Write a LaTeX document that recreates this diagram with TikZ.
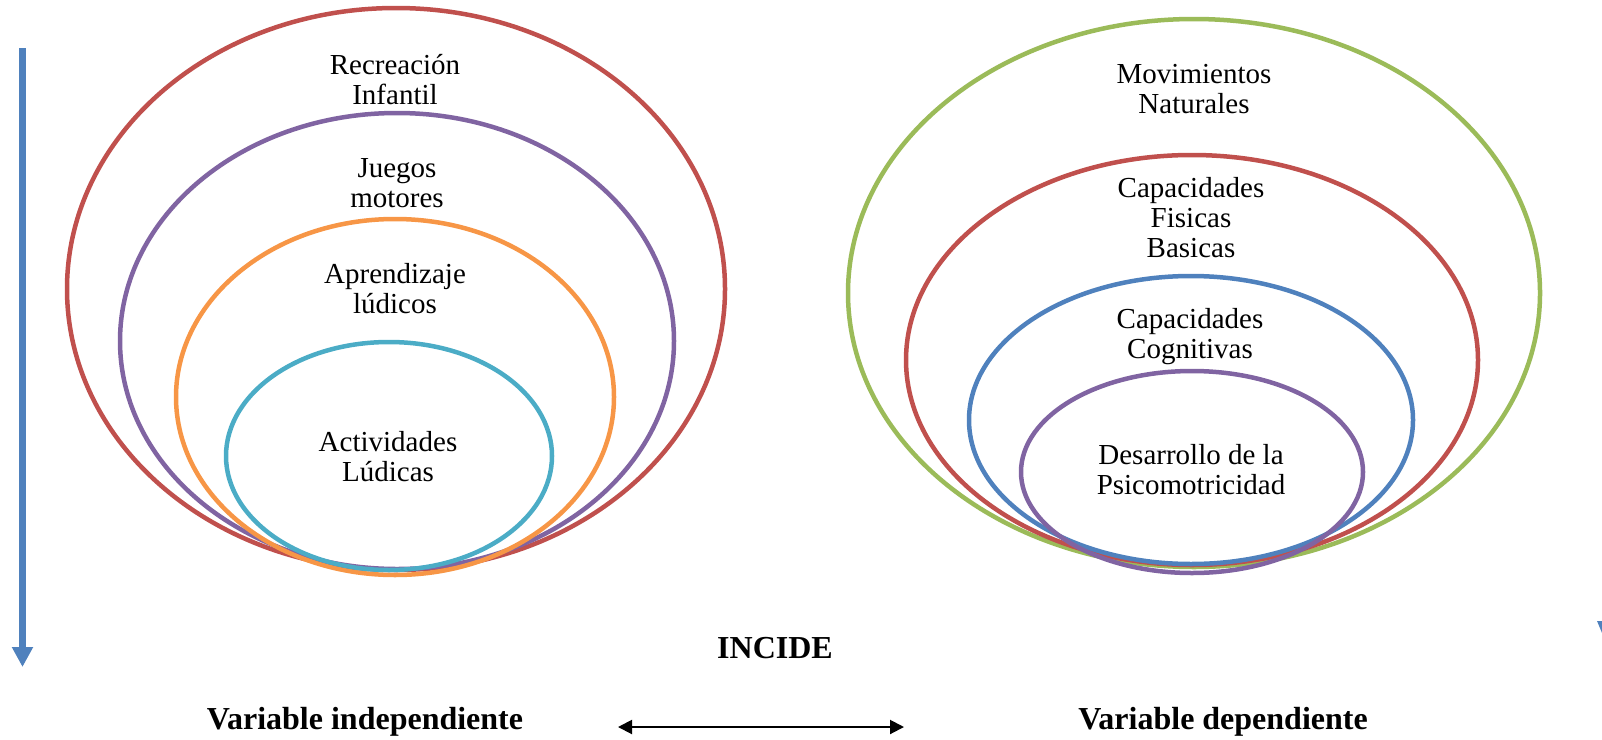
\documentclass[tikz,border=0pt]{standalone}
\usepackage{fontspec}
\setmainfont{Liberation Serif}
\usetikzlibrary{shapes.geometric,arrows.meta}
\definecolor{cred}{HTML}{C0504D}
\definecolor{cpurple}{HTML}{8064A2}
\definecolor{corange}{HTML}{F79646}
\definecolor{ccyan}{HTML}{4BACC6}
\definecolor{cgreen}{HTML}{9BBB59}
\definecolor{cblue}{HTML}{4F81BD}
\tikzset{
  ring/.style={ellipse, draw, line width=4.5pt, inner sep=0pt},
  lbl/.style={align=center, font=\fontsize{29}{30}\selectfont, inner sep=0pt},
  btxt/.style={font=\fontsize{32}{34}\selectfont\bfseries, inner sep=0pt, anchor=base},
}
\begin{document}
\begin{tikzpicture}[x=1pt,y=-1pt]
\useasboundingbox (0,0) rectangle (1602,739);
% left set
\node[ring, draw=cred, minimum width=658pt, minimum height=562pt] (l1) at (396,289) {};
\node[ring, draw=cpurple, minimum width=554pt, minimum height=456pt] (l2) at (397,341) {};
\node[ring, draw=corange, minimum width=438pt, minimum height=356pt] (l3) at (395,397) {};
\node[ring, draw=ccyan, minimum width=326pt, minimum height=228pt] (l4) at (389,456) {};
% right set
\node[ring, draw=cgreen, minimum width=692pt, minimum height=548pt] (r1) at (1194,293) {};
\node[ring, draw=cred, minimum width=572pt, minimum height=410pt] (r2) at (1192,360) {};
\node[ring, draw=cblue, minimum width=444pt, minimum height=288pt] (r3) at (1191,420) {};
\node[ring, draw=cpurple, minimum width=342pt, minimum height=202pt] (r4) at (1192,472) {};
% labels
\node[lbl] (t1) at (395,80) {Recreación\\Infantil};
\node[lbl] (t2) at (397,183) {Juegos\\motores};
\node[lbl] (t3) at (395,289) {Aprendizaje\\lúdicos};
\node[lbl] (t4) at (388,457) {Actividades\\Lúdicas};
\node[lbl] (u1) at (1194,89) {Movimientos\\Naturales};
\node[lbl] (u2) at (1191,218) {Capacidades\\Fisicas\\Basicas};
\node[lbl] (u3) at (1190,337) {Capacidades\\Cognitivas};
\node[lbl] (u4) at (1191,470) {Desarrollo de la\\Psicomotricidad};
% bottom texts
\node[btxt] (inc) at (775,658) {INCIDE};
\node[btxt] (vi) at (365,729) {Variable independiente};
\node[btxt] (vd) at (1223,729) {Variable dependiente};
\coordinate (da) at (618,727);
\coordinate (db) at (904,727);
\draw[line width=2pt, {Triangle[length=14pt,width=14pt]}-{Triangle[length=14pt,width=14pt]}] (da) -- (db);
% left blue arrow
\coordinate (va) at (22.5,48);
\coordinate (vb) at (22.5,667);
\draw[cblue, line width=7pt, -{Triangle[length=20pt,width=20pt]}] (va) -- (vb);
% clipped arrowhead at right edge
\fill[cblue] (1597,621) -- (1602,621) -- (1602,633) -- cycle;
\end{tikzpicture}
\end{document}
